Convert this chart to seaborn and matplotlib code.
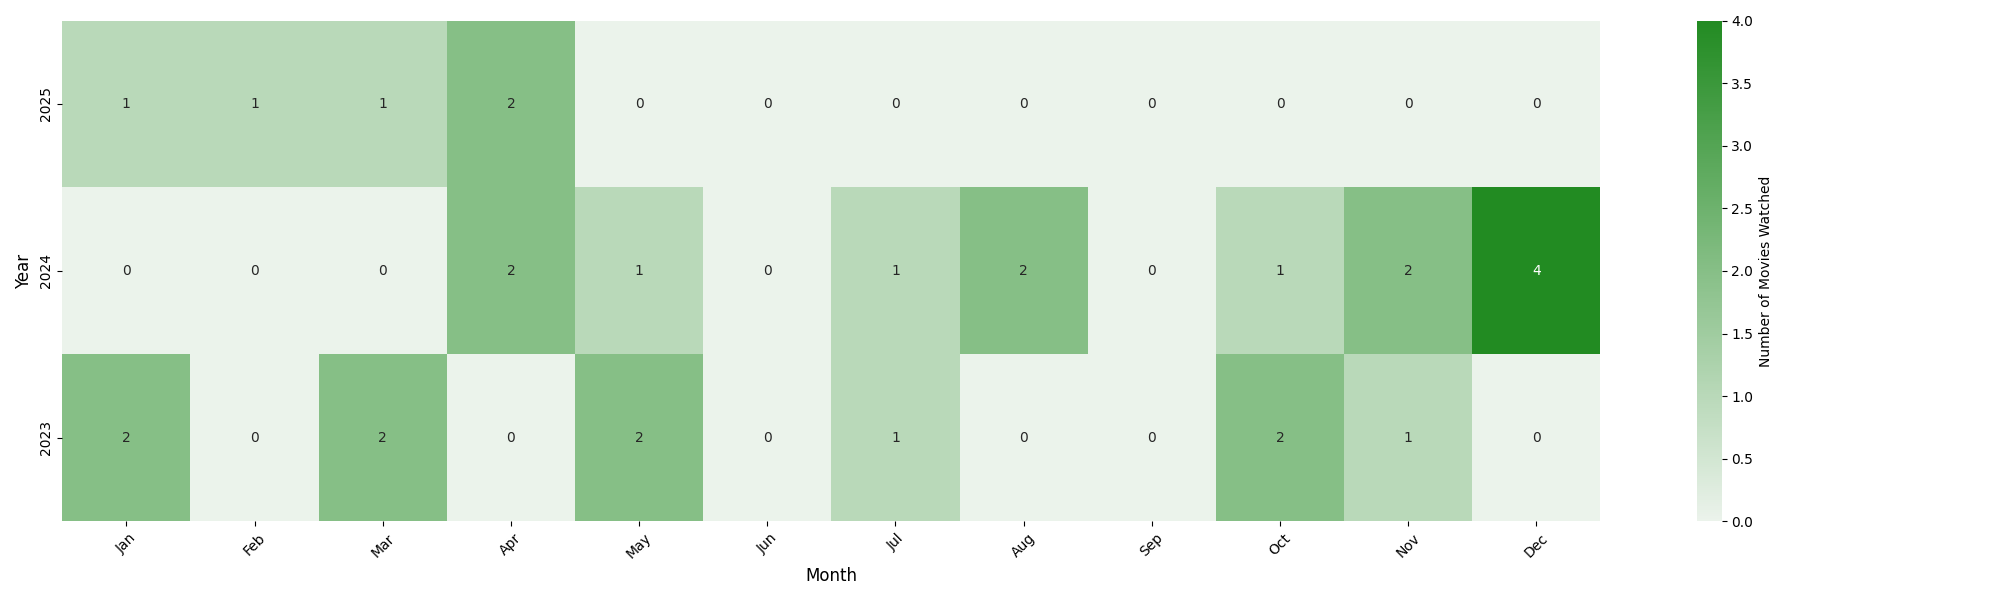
import matplotlib
matplotlib.use("Agg")
import matplotlib.pyplot as plt
import pandas as pd
import seaborn as sns

# values
MONTHS = ["Jan", "Feb", "Mar", "Apr", "May", "Jun",
          "Jul", "Aug", "Sep", "Oct", "Nov", "Dec"]
YEARS = [2025, 2024, 2023]
COUNTS_2025 = [1, 1, 1, 2, 0, 0, 0, 0, 0, 0, 0, 0]
COUNTS_2024 = [0, 0, 0, 2, 1, 0, 1, 2, 0, 1, 2, 4]
COUNTS_2023 = [2, 0, 2, 0, 2, 0, 1, 0, 0, 2, 1, 0]

pivot = pd.DataFrame([COUNTS_2025, COUNTS_2024, COUNTS_2023],
                     index=pd.Index(YEARS, name="Year"),
                     columns=pd.Index(MONTHS, name="Month"))

cmap = sns.light_palette("forestgreen", as_cmap=True)

fig, ax = plt.subplots(figsize=(20, 6), dpi=100)
sns.heatmap(
    pivot,
    ax=ax,
    annot=True,
    fmt="d",
    cmap=cmap,
    cbar_kws={"label": "Number of Movies Watched"},
)
ax.set_xlabel("Month", fontsize=12)
ax.set_ylabel("Year", fontsize=12)
plt.xticks(rotation=45)

plt.tight_layout()
plt.savefig("out.png")
